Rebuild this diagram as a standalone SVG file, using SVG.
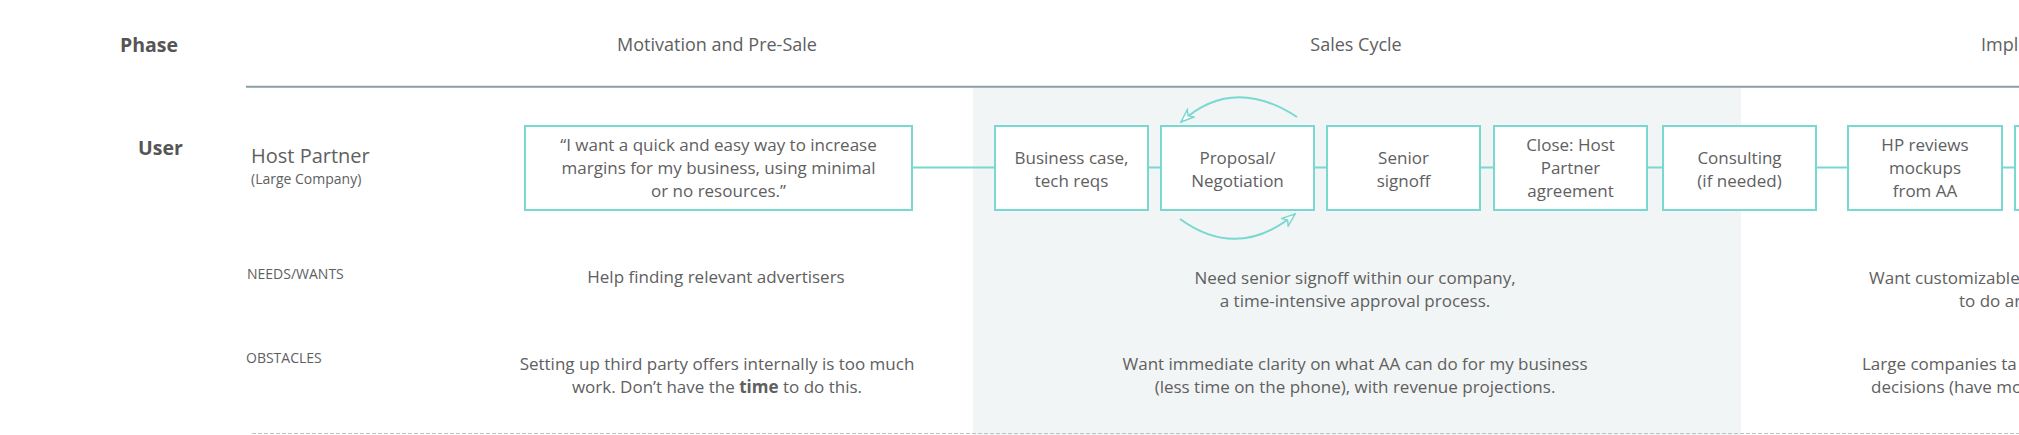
<svg xmlns="http://www.w3.org/2000/svg" width="2019" height="435" viewBox="0 0 2019 435">
<style>
text{font-family:"Open Sans","Liberation Sans",sans-serif;fill:#606060}
.lab{font-size:19.5px;font-weight:bold;fill:#555}
.ph{font-size:18px}
.bx{font-size:17px;text-anchor:middle}
.body{font-size:17px;text-anchor:middle}
.cut{font-size:17px}
.sm{font-size:14px}
.node rect{fill:#fff;stroke:#79d8cf;stroke-width:2}
.conn line,.conn path{stroke:#79d8cf;stroke-width:2;fill:none}
</style>
<defs>
<marker id="ah" markerUnits="userSpaceOnUse" markerWidth="16" markerHeight="12" refX="13" refY="5" orient="auto" viewBox="-1 -1 16 12">
<path d="M0,0 L13,5 L0,10 L3.5,5 Z" fill="#fff" stroke="#79d8cf" stroke-width="1.5" stroke-linejoin="miter"/>
</marker>
</defs>
<rect x="0" y="0" width="2019" height="435" fill="#fff"/>
<rect id="band" x="973" y="88" width="768" height="347" fill="#f2f5f5"/>
<line x1="246" y1="86.8" x2="2019" y2="86.8" stroke="#8a9ea3" stroke-width="2"/>
<line x1="252" y1="433.5" x2="2019" y2="433.5" stroke="#c2c2c2" stroke-width="1" stroke-dasharray="4 2"/>

<g id="labels">
<text class="lab" x="120" y="52">Phase</text>
<text class="lab" x="138" y="155">User</text>
<text class="ph" x="717" y="51" text-anchor="middle">Motivation and Pre-Sale</text>
<text class="ph" x="1356" y="51" text-anchor="middle">Sales Cycle</text>
<text class="ph" x="1981" y="51">Impl</text>
<text x="251" y="163" style="font-size:20px">Host Partner</text>
<text class="sm" x="251" y="184">(Large Company)</text>
<text class="sm" x="247" y="279">NEEDS/WANTS</text>
<text class="sm" x="246" y="363">OBSTACLES</text>
</g>

<g class="conn" id="connectors">
<line x1="912" y1="167.5" x2="995" y2="167.5"/>
<line x1="1148" y1="167.5" x2="1161" y2="167.5"/>
<line x1="1314" y1="167.5" x2="1327" y2="167.5"/>
<line x1="1480" y1="167.5" x2="1494" y2="167.5"/>
<line x1="1647" y1="167.5" x2="1663" y2="167.5"/>
<line x1="1816" y1="167.5" x2="1848" y2="167.5"/>
<line x1="2002" y1="167.5" x2="2015" y2="167.5"/>
<path d="M1297,117 Q1233,75 1181,122" marker-end="url(#ah)"/>
<path d="M1180,219 Q1238,261 1295,214" marker-end="url(#ah)"/>
</g>

<g class="node" id="quote">
<rect x="525" y="126" width="387" height="84"/>
<text class="bx" x="718.5" y="151">“I want a quick and easy way to increase</text>
<text class="bx" x="718.5" y="174">margins for my business, using minimal</text>
<text class="bx" x="718.5" y="197">or no resources.”</text>
</g>
<g class="node" id="business-case">
<rect x="995" y="126" width="153" height="84"/>
<text class="bx" x="1071.5" y="163.5">Business case,</text>
<text class="bx" x="1071.5" y="186.5">tech reqs</text>
</g>
<g class="node" id="proposal">
<rect x="1161" y="126" width="153" height="84"/>
<text class="bx" x="1237.5" y="163.5">Proposal/</text>
<text class="bx" x="1237.5" y="186.5">Negotiation</text>
</g>
<g class="node" id="senior-signoff">
<rect x="1327" y="126" width="153" height="84"/>
<text class="bx" x="1403.5" y="163.5">Senior</text>
<text class="bx" x="1403.5" y="186.5">signoff</text>
</g>
<g class="node" id="close">
<rect x="1494" y="126" width="153" height="84"/>
<text class="bx" x="1570.5" y="151">Close: Host</text>
<text class="bx" x="1570.5" y="174">Partner</text>
<text class="bx" x="1570.5" y="197">agreement</text>
</g>
<g class="node" id="consulting">
<rect x="1663" y="126" width="153" height="84"/>
<text class="bx" x="1739.5" y="163.5">Consulting</text>
<text class="bx" x="1739.5" y="186.5">(if needed)</text>
</g>
<g class="node" id="hp-reviews">
<rect x="1848" y="126" width="154" height="84"/>
<text class="bx" x="1925" y="151">HP reviews</text>
<text class="bx" x="1925" y="174">mockups</text>
<text class="bx" x="1925" y="197">from AA</text>
</g>
<g class="node" id="next-step">
<rect x="2015" y="126" width="153" height="84"/>
</g>

<g id="needs">
<text class="body" x="716" y="283">Help finding relevant advertisers</text>
<text class="body" x="1355" y="284">Need senior signoff within our company,</text>
<text class="body" x="1355" y="307">a time-intensive approval process.</text>
<text class="cut" x="1869" y="284">Want customizable</text>
<text class="cut" x="1959" y="307">to do ar</text>
</g>
<g id="obstacles">
<text class="body" x="717" y="370">Setting up third party offers internally is too much</text>
<text class="body" x="717" y="393">work. Don’t have the <tspan font-weight="bold">time</tspan> to do this.</text>
<text class="body" x="1355" y="370">Want immediate clarity on what AA can do for my business</text>
<text class="body" x="1355" y="393">(less time on the phone), with revenue projections.</text>
<text class="cut" x="1862" y="370">Large companies ta</text>
<text class="cut" x="1871" y="393">decisions (have mo</text>
</g>
</svg>
